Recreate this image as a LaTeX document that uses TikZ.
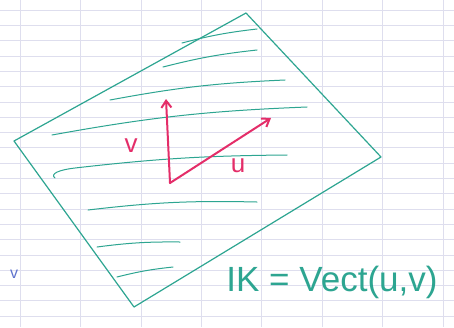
\documentclass[tikz,border=0pt]{standalone}
\usepackage{fontspec}
\setsansfont{Liberation Sans}
\usetikzlibrary{arrows.meta}

\definecolor{penteal}{RGB}{45,165,145}
\definecolor{penred}{RGB}{228,45,105}
\definecolor{penblue}{RGB}{95,115,205}
\definecolor{paperline}{RGB}{222,222,238}

\tikzset{
  gridrule/.style={paperline, line width=0.6pt},
  tealpen/.style={penteal, line width=1.2pt, line cap=round, line join=round},
  redpen/.style={penred, line width=2pt, line cap=round, line join=round},
  handlabel/.style={font=\sffamily\fontsize{26}{26}\selectfont, inner sep=0pt}
}

\begin{document}
\begin{tikzpicture}[x=1pt, y=-1pt, >={Straight Barb[length=7pt, width=10pt]}]

  \useasboundingbox (0,0) rectangle (454,327);
  \fill[white] (0,0) rectangle (454,327);

  % Squared paper.
  \foreach \k in {0,...,20}
    \draw[gridrule] (0,{10+15.3*\k}) -- (454,{10+15.3*\k});
  \foreach \k in {0,...,7}
    \draw[gridrule] ({20+60.4*\k},0) -- ({20+60.4*\k},327);

  % Tilted plane piece.
  \coordinate (top) at (246,13);
  \coordinate (right) at (381,157);
  \coordinate (bottom) at (134,307);
  \coordinate (left) at (14,141);
  \draw[tealpen] (left) -- (top) -- (right) -- (bottom) -- cycle;

  % Hatching strokes.
  \foreach \xa/\ya/\xb/\yb in {182/43/257/29, 163/67/257/50, 110/100/285/80,
                               52/135/307/107, 88/210/257/202, 97/247/180/242,
                               117/277/173/267}
    \draw[tealpen, line width=1pt] (\xa,\ya) to[bend left=4] (\xb,\yb);
  \draw[tealpen, line width=1pt] (55,178) .. controls (50,174) and (58,170) .. (75,168)
    to[bend left=3] (287,155);

  % The two spanning vectors.
  \coordinate (origin) at (170,183);
  \coordinate (vtip) at (166,99);
  \coordinate (utip) at (271,118);
  \draw[redpen, ->] (origin) -- (vtip);
  \draw[redpen, ->] (origin) -- (utip);
  \node[handlabel, text=penred] (vlabel) at (131,146) {v};
  \node[handlabel, text=penred] (ulabel) at (238,166) {u};

  % Caption and stray mark.
  \node[font=\sffamily\fontsize{35}{35}\selectfont, text=penteal, inner sep=0pt]
    (caption) at (332,282) {IK = Vect(u,v)};
  \node[font=\sffamily\fontsize{16}{16}\selectfont, text=penblue, inner sep=0pt]
    (stray) at (14,274) {v};

\end{tikzpicture}
\end{document}
